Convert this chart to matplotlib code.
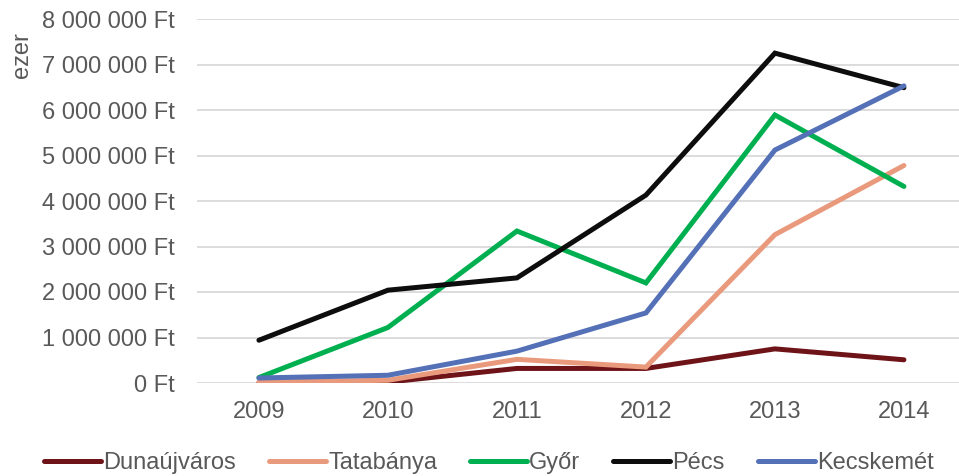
import matplotlib
matplotlib.use("Agg")
import matplotlib.pyplot as plt
from matplotlib.ticker import FuncFormatter

years = ["2009", "2010", "2011", "2012", "2013", "2014"]
dunaujvaros = [0.0, 0.02, 0.32, 0.32, 0.75, 0.51]
tatabanya = [0.02, 0.06, 0.52, 0.35, 3.26, 4.78]
gyor = [0.12, 1.22, 3.34, 2.20, 5.89, 4.32]
pecs = [0.94, 2.04, 2.31, 4.13, 7.25, 6.49]
kecskemet = [0.11, 0.17, 0.70, 1.54, 5.12, 6.53]

series = [
    ("Dunaújváros", dunaujvaros, "#6E1419"),
    ("Tatabánya", tatabanya, "#EA9A7C"),
    ("Győr", gyor, "#00B050"),
    ("Pécs", pecs, "#0D0D0D"),
    ("Kecskemét", kecskemet, "#5470B6"),
]

plt.rcParams['font.family'] = ['Liberation Sans', 'DejaVu Sans']
FS = 17

fig = plt.figure(figsize=(9.59, 4.76), dpi=100)
ax = fig.add_axes([197/959, 93/476, (959-197)/959, (383-19)/476])

x = list(range(len(years)))
for name, vals, col in series:
    ax.plot(x, [v * 1e6 for v in vals], color=col, lw=3.6, label=name,
            solid_capstyle='round', solid_joinstyle='miter')

ax.set_xlim(-0.48, -0.48 + 762/129)
ax.set_ylim(0, 8e6)
ax.set_yticks([i * 1e6 for i in range(9)])

def fmt(v, pos):
    n = int(round(v))
    if n == 0:
        return "0 Ft"
    s = f"{n:,}".replace(",", " ")
    return s + " Ft"

ax.yaxis.set_major_formatter(FuncFormatter(fmt))
ax.set_xticks(x)
ax.set_xticklabels(years)
ax.grid(axis='y', color='#D9D9D9', lw=1.3)
ax.set_axisbelow(True)
for s in ax.spines.values():
    s.set_visible(False)
ax.tick_params(axis='both', length=0, labelsize=FS, colors='#595959')
ax.tick_params(axis='x', pad=13)
ax.tick_params(axis='y', pad=16)

fig.text(22/959, 1 - 55/476, "ezer", rotation=90, ha='center', va='center',
         fontsize=FS, color='#595959')

fig.legend(loc='center', bbox_to_anchor=(489/959, 1 - 463/476), ncol=5,
           frameon=False, fontsize=FS, handlelength=2.4, handletextpad=0.1,
           columnspacing=1.4, labelcolor='#595959')

fig.savefig("out.png", dpi=100)
